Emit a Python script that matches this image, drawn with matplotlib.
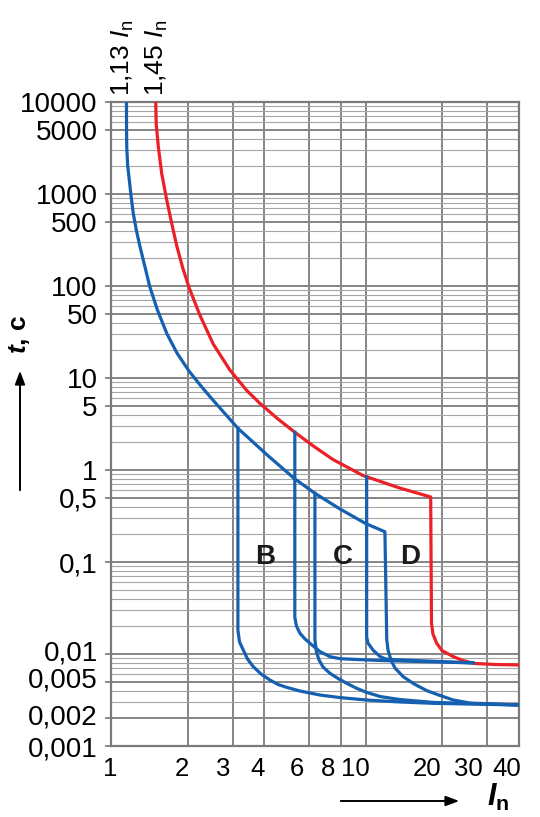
import matplotlib
matplotlib.use("Agg")
import matplotlib.pyplot as plt
import matplotlib.transforms as mtransforms
import numpy as np
from matplotlib.ticker import FixedLocator, FixedFormatter, LogLocator, NullLocator, NullFormatter

plt.rcParams['font.family'] = ['Liberation Sans', 'DejaVu Sans']
plt.rcParams['mathtext.fontset'] = 'custom'
plt.rcParams['mathtext.rm'] = 'Liberation Sans'
plt.rcParams['mathtext.it'] = 'Liberation Sans:italic'
plt.rcParams['mathtext.bf'] = 'Liberation Sans:bold'
plt.rcParams['mathtext.sf'] = 'Liberation Sans:italic:bold'

# --- data ---
x_ticks = [1, 2, 3, 4, 6, 8, 10, 20, 30, 40]
x_tick_labels = ['1', '2', '3', '4', '6', '8', '10', '20', '30', '40']
y_ticks = [10000, 5000, 1000, 500, 100, 50, 10, 5, 1, 0.5, 0.1, 0.01, 0.005, 0.002, 0.001]
y_tick_labels = ['10000', '5000', '1000', '500', '100', '50', '10', '5', '1', '0,5',
                 '0,1', '0,01', '0,005', '0,002', '0,001']

# 1,13 In curve (lower thermal limit), its end drops as the D lower limit
cold_x = [1.150, 1.151, 1.153, 1.162, 1.180, 1.200, 1.223, 1.257, 1.30, 1.354, 1.42, 1.522,
          1.655, 1.815, 2.024, 2.256, 2.495, 3.15, 4.09, 5.24, 6.32, 7.93, 9.94, 11.9,
          12.1, 12.24, 12.57, 13.03, 14.05, 15.5, 17.4, 19.6, 22.1, 25.7, 40]
cold_y = [10000, 4966, 3266, 2065, 1419, 927, 617, 406, 267, 169, 98, 54.8,
          30.6, 18.7, 11.9, 8.18, 5.89, 2.84, 1.47, 0.81, 0.558, 0.377, 0.264, 0.213,
          0.0143, 0.0110, 0.0086, 0.00705, 0.00566, 0.00472, 0.00399, 0.00354, 0.00316, 0.00293, 0.00279]

# 1,45 In curve (upper limit, characteristic D)
hot_x = [1.498, 1.506, 1.534, 1.581, 1.655, 1.731, 1.811, 1.912, 2.03, 2.236, 2.52, 2.93,
         3.41, 3.84, 4.5, 5.24, 6.2, 7.44, 9.76, 13.6, 18.0,
         18.13, 18.37, 19.0, 19.93, 22.1, 24.1, 26.5, 32.2, 40]
hot_y = [10000, 5623, 3266, 1679, 861, 480, 275, 158, 94.4, 47.9, 23.4, 12.2,
         7.33, 5.31, 3.63, 2.60, 1.84, 1.30, 0.871, 0.637, 0.509,
         0.0217, 0.0165, 0.0131, 0.0109, 0.00935, 0.0085, 0.0079, 0.00769, 0.0076]

# B lower limit (3 In)
b_low_x = [3.15, 3.15, 3.196, 3.31, 3.435, 3.62, 3.88, 4.21, 4.53, 4.90, 5.52, 6.62,
           7.93, 10.1, 13.6, 18.4, 40]
b_low_y = [2.84, 0.0182, 0.0135, 0.0110, 0.00883, 0.00728, 0.00607, 0.00521, 0.00466,
           0.00434, 0.00396, 0.00358, 0.00336, 0.00316, 0.00301, 0.00291, 0.00279]

# B upper limit (5 In)
b_up_x = [5.27, 5.27, 5.35, 5.52, 5.78, 6.04, 6.32, 6.62, 7.24, 7.93, 8.94, 11.4, 26.4]
b_up_y = [2.57, 0.0250, 0.0201, 0.0168, 0.01455, 0.0131, 0.01178, 0.0106, 0.00935,
          0.00889, 0.00875, 0.0085, 0.0080]

# C lower limit
c_low_x = [6.32, 6.32, 6.41, 6.56, 6.80, 7.24, 7.79, 8.42, 9.16, 10.1, 11.4, 13.6, 18.4, 40]
c_low_y = [0.558, 0.0143, 0.0105, 0.0086, 0.00722, 0.00617, 0.00542, 0.00481, 0.00427,
           0.00382, 0.00345, 0.0032, 0.00298, 0.00279]

# C upper limit (10 In)
c_up_x = [10.09, 10.09, 10.2, 10.7, 11.4, 12.0, 12.8, 26.4]
c_up_y = [0.84, 0.0154, 0.0132, 0.0110, 0.00935, 0.00883, 0.0087, 0.0080]

band_labels = ['B', 'C', 'D']
band_label_x = [4.02, 8.15, 14.9]
band_label_y = [0.113, 0.113, 0.113]

W, H = 540, 817
BLUE = '#1560b0'
RED = '#ec2027'

fig = plt.figure(figsize=(W / 100, H / 100), dpi=100)
fig.patch.set_facecolor('white')
ax = fig.add_axes([111 / W, 1 - 746 / H, 408 / W, 644 / H])
ax.set_facecolor('white')
ax.set_xscale('log')
ax.set_yscale('log')
ax.set_xlim(1, 40)
ax.set_ylim(0.001, 10000)

ax.xaxis.set_major_locator(FixedLocator(x_ticks))
ax.xaxis.set_major_formatter(FixedFormatter(x_tick_labels))
ax.xaxis.set_minor_locator(NullLocator())
ax.yaxis.set_major_locator(FixedLocator(y_ticks))
ax.yaxis.set_major_formatter(FixedFormatter(y_tick_labels))
ax.yaxis.set_minor_locator(LogLocator(base=10, subs=np.arange(2, 10), numticks=60))
ax.yaxis.set_minor_formatter(NullFormatter())

ax.grid(True, which='major', axis='both', color='#858585', lw=1.4)
ax.grid(True, which='minor', axis='y', color='#a5a5a5', lw=0.8)
ax.set_axisbelow(True)

ax.tick_params(axis='y', which='major', length=4.5, width=1.2, color='#777777',
               labelsize=20, pad=5)
ax.tick_params(axis='y', which='minor', length=0)
ax.tick_params(axis='x', which='major', length=0, labelsize=18.5, pad=8)

# the bottom numbers sit a little left of their grid lines, as in the original
x_label_shift = [-1, -6, -9, -7, -12, -13, -10, -15, -19, -12]
for lab, dx in zip(ax.get_xticklabels(), x_label_shift):
    lab.set_transform(lab.get_transform() +
                      mtransforms.ScaledTranslation(dx / 100, 0, fig.dpi_scale_trans))
# the crowded labels at the bottom of the time axis are nudged up slightly
for lab in ax.get_yticklabels():
    lift = {'0,01': 3, '0,005': 4, '0,002': 4}.get(lab.get_text(), 0)
    if lift:
        lab.set_transform(lab.get_transform() +
                          mtransforms.ScaledTranslation(0, lift / 100, fig.dpi_scale_trans))

for sp in ax.spines.values():
    sp.set_color('#7a7a7a')
    sp.set_linewidth(1.6)

lw = 2.3
for xs, ys in [(cold_x, cold_y), (b_low_x, b_low_y), (b_up_x, b_up_y),
               (c_low_x, c_low_y), (c_up_x, c_up_y)]:
    ax.plot(xs, ys, color=BLUE, lw=lw, solid_joinstyle='round', zorder=3)
ax.plot(hot_x, hot_y, color=RED, lw=lw, solid_joinstyle='round', zorder=2.9)

for lab, bx, by in zip(band_labels, band_label_x, band_label_y):
    ax.text(bx, by, lab, fontsize=20, fontweight='bold', ha='center', va='center',
            color='#1a1a1a', zorder=4)

def fp(x, y):
    return (x / W, 1 - y / H)

# curve labels above the plot
fig.text(*fp(123, 96), r'1,13 $\mathit{I}_{\mathrm{n}}$', rotation=90, ha='center',
         va='bottom', fontsize=19)
fig.text(*fp(157, 96), r'1,45 $\mathit{I}_{\mathrm{n}}$', rotation=90, ha='center',
         va='bottom', fontsize=19)

# axis titles with arrows
fig.text(*fp(19, 354), r'$\mathsf{t}$, c', rotation=90, ha='center', va='bottom',
         fontsize=19, fontweight='bold')
ax.annotate('', xy=fp(20, 368), xytext=fp(20, 493), xycoords='figure fraction',
            arrowprops=dict(arrowstyle='-|>,head_length=0.8,head_width=0.3', color='black', lw=1.4))
ax.annotate('', xy=fp(462, 801), xytext=fp(338, 801), xycoords='figure fraction',
            arrowprops=dict(arrowstyle='-|>,head_length=0.8,head_width=0.3', color='black', lw=1.4))
fig.text(*fp(487, 806), r'$\mathsf{I}_{\mathbf{n}}$', ha='left', va='baseline', fontsize=22)

fig.savefig('out.png', dpi=100)
